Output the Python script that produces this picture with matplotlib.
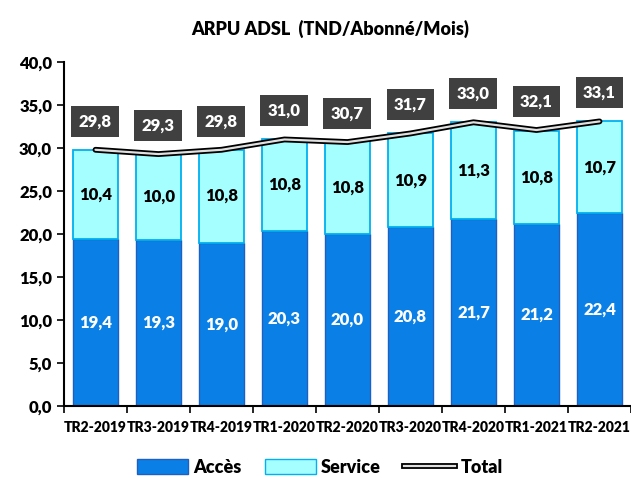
import matplotlib
matplotlib.use("Agg")
import matplotlib.pyplot as plt
import numpy as np
import matplotlib.patheffects as pe
from matplotlib.lines import Line2D

categories = ["TR2-2019", "TR3-2019", "TR4-2019", "TR1-2020", "TR2-2020",
              "TR3-2020", "TR4-2020", "TR1-2021", "TR2-2021"]
acces = [19.4, 19.3, 19.0, 20.3, 20.0, 20.8, 21.7, 21.2, 22.4]
service = [10.4, 10.0, 10.8, 10.8, 10.8, 10.9, 11.3, 10.8, 10.7]
total = [29.8, 29.3, 29.8, 31.0, 30.7, 31.7, 33.0, 32.1, 33.1]

WT = "heavy"
plt.rcParams['font.family'] = ['Lato', 'DejaVu Sans']
plt.rcParams['font.weight'] = WT

fig = plt.figure(figsize=(6.31, 4.78), dpi=100)
ax = fig.add_axes([0.1014, 0.151, 0.8986, 0.719])

x = np.arange(len(categories))
w = 0.71
fmt = lambda v: f"{v:.1f}".replace(".", ",")

ax.bar(x, acces, w, color="#0A80E6", edgecolor="#1F5FBF", linewidth=1.0, label="Accès")
ax.bar(x, service, w, bottom=acces, color="#A6FFFF", edgecolor="#00B0F0", linewidth=1.3, label="Service")

ax.plot(x, total, color="black", linewidth=4.2, solid_capstyle="round", zorder=4)
ax.plot(x, total, color="#E0E0E0", linewidth=1.6, solid_capstyle="round", zorder=5)

for i in range(len(x)):
    ax.text(x[i], acces[i] / 2, fmt(acces[i]), ha="center", va="center",
            color="white", fontsize=12, fontweight=WT)
    ax.text(x[i], acces[i] + service[i] / 2, fmt(service[i]), ha="center", va="center",
            color="black", fontsize=12, fontweight=WT)
    ax.annotate(fmt(total[i]), (x[i], total[i]), xytext=(0, 20.5), textcoords="offset points",
                ha="center", va="center", color="white", fontsize=12, fontweight=WT,
                bbox=dict(boxstyle="square,pad=0.45", fc="#404040", ec="none"), zorder=6)

ax.set_xlim(-0.5, len(x) - 0.5)
ax.set_ylim(0, 40)
ax.set_yticks(np.arange(0, 41, 5))
ax.set_yticklabels([fmt(v) for v in np.arange(0, 41, 5)], fontsize=12, fontweight=WT)
ax.set_xticks(x)
ax.set_xticklabels(categories, fontsize=10, fontweight=WT)
ax.tick_params(axis="x", length=0, pad=11)
ax.set_xticks(np.arange(-0.5, len(x), 1), minor=True)
ax.tick_params(axis="x", which="minor", length=5, width=1.2, direction="out")
ax.tick_params(axis="y", length=5, width=1.2, direction="out")
for s in ["top", "right"]:
    ax.spines[s].set_visible(False)
for s in ["left", "bottom"]:
    ax.spines[s].set_linewidth(1.5)

fig.text(0.523, 0.94, "ARPU ADSL  (TND/Abonné/Mois)", ha="center", va="center",
         fontsize=13, fontweight=WT)

handles = [
    plt.Rectangle((0, 0), 1, 1, fc="#0A80E6", ec="#1F5FBF"),
    plt.Rectangle((0, 0), 1, 1, fc="#A6FFFF", ec="#00B0F0"),
    Line2D([0], [0], color="#E0E0E0", linewidth=1.6,
           path_effects=[pe.Stroke(linewidth=4.2, foreground="black"), pe.Normal()]),
]
fig.legend(handles, ["Accès", "Service", "Total"], loc="center", bbox_to_anchor=(0.507, 0.022),
           ncol=3, frameon=False, handlelength=2.8, handleheight=0.9,
           columnspacing=1.3, handletextpad=0.3, prop=dict(weight=WT, size=13))

fig.savefig("out.png", dpi=100)
